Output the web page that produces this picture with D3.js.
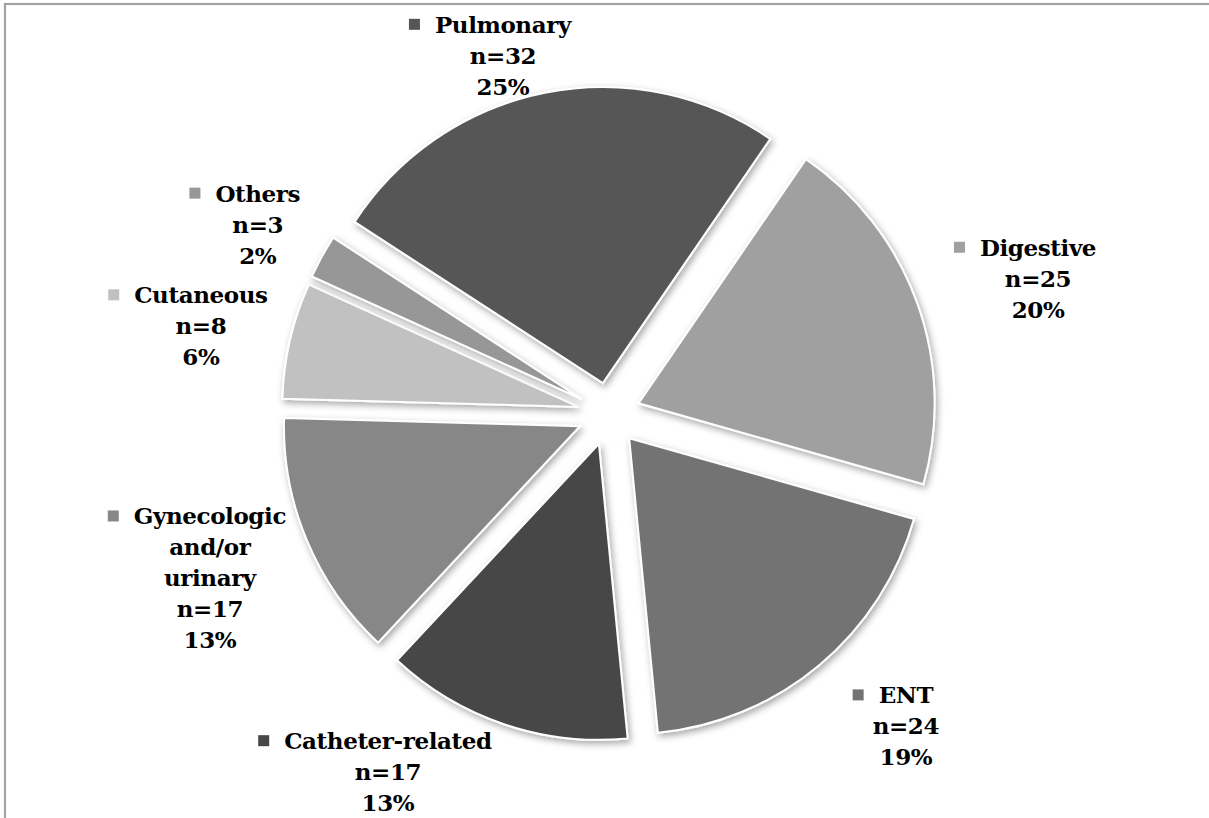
<!DOCTYPE html>
<html>
<head>
<meta charset="utf-8">
<script src="https://cdnjs.cloudflare.com/ajax/libs/d3/7.8.5/d3.min.js"></script>
<style>
    body { margin: 0; background: #fff; }
    #pie-area { width: 1209px; height: 818px; }
    .pie-label { font-family: "DejaVu Serif", serif; font-weight: bold; font-size: 23px; letter-spacing: -0.4px; fill: #000; }
</style>
</head>
<body>
<div id="pie-area"></div>
<script>

// data
let categories = ["Pulmonary", "Digestive", "ENT", "Catheter-related", "Gynecologic and/or urinary", "Cutaneous", "Others"];
let counts = [32, 25, 24, 17, 17, 8, 3];
let percentLabels = ["25%", "20%", "19%", "13%", "13%", "6%", "2%"];

// greys used per slice (same order as categories)
let sliceColors = ["#565656", "#a0a0a0", "#737373", "#474747", "#878787", "#c1c1c1", "#979797"];

// label nudges from the outer edge of each exploded slice
let labelNudge = [[-42, -29], [121, -16], [87, 69], [-116, 56], [-97, 46], [-89, -6], [-64, -24]];

// long names broken on several lines like the original
let wrapLines = {"Gynecologic and/or urinary": ["Gynecologic", "and/or", "urinary"]};


/* * * * * * * * * * * * * *
*      class PieVis        *
* * * * * * * * * * * * * */

class PieVis {

    constructor(parentElement){
        this.parentElement = parentElement;
        this.initVis()
    }

    initVis(){
        let vis = this;

        vis.width = 1209;
        vis.height = 818;
        vis.center = {x: 609, y: 414};
        vis.radius = 296;
        vis.explode = 31.5;

        vis.svg = d3.select("#" + vis.parentElement).append("svg")
            .attr("width", vis.width)
            .attr("height", vis.height);

        // drop shadow for the slices
        let filter = vis.svg.append("defs").append("filter")
            .attr("id", "slice-shadow")
            .attr("x", "-20%").attr("y", "-20%")
            .attr("width", "140%").attr("height", "140%");
        filter.append("feDropShadow")
            .attr("dx", 2).attr("dy", 3)
            .attr("stdDeviation", 3.5)
            .attr("flood-color", "#000")
            .attr("flood-opacity", 0.35);

        // frame (only top and left edges are visible in the picture)
        vis.svg.append("rect")
            .attr("x", 5).attr("y", 4)
            .attr("width", vis.width + 20).attr("height", vis.height + 20)
            .attr("fill", "none")
            .attr("stroke", "#a2a2a2")
            .attr("stroke-width", 2.2);

        vis.pieGroup = vis.svg.append("g")
            .attr("transform", `translate(${vis.center.x}, ${vis.center.y})`);

        vis.labelGroup = vis.svg.append("g");

        vis.pie = d3.pie()
            .sort(null)
            .value(d => d.count)
            .startAngle(-57 * Math.PI / 180)
            .endAngle(303 * Math.PI / 180);

        vis.arc = d3.arc()
            .innerRadius(0)
            .outerRadius(vis.radius);

        this.wrangleData();
    }

    wrangleData(){
        let vis = this;

        vis.displayData = categories.map((c, i) => ({
            name: c,
            count: counts[i],
            pct: percentLabels[i],
            color: sliceColors[i],
            nudge: labelNudge[i]
        }));

        vis.updateVis()
    }

    updateVis(){
        let vis = this;

        let arcs = vis.pie(vis.displayData);

        // slices, each pushed out along its bisector
        vis.pieGroup.selectAll(".slice")
            .data(arcs)
            .enter()
            .append("path")
            .attr("class", "slice")
            .attr("d", vis.arc)
            .attr("fill", d => d.data.color)
            .attr("stroke", "#fff")
            .attr("stroke-width", 2)
            .attr("stroke-linejoin", "miter")
            .attr("filter", "url(#slice-shadow)")
            .attr("transform", d => {
                let mid = (d.startAngle + d.endAngle) / 2;
                return `translate(${vis.explode * Math.sin(mid)}, ${-vis.explode * Math.cos(mid)})`;
            });

        // labels
        let lineH = 31;
        arcs.forEach(d => {
            let mid = (d.startAngle + d.endAngle) / 2;
            let rOut = vis.radius + vis.explode;
            let cx = vis.center.x + rOut * Math.sin(mid) + d.data.nudge[0];
            let cy = vis.center.y - rOut * Math.cos(mid) + d.data.nudge[1];

            let lines = (wrapLines[d.data.name] || [d.data.name]).concat(["n=" + d.data.count, d.data.pct]);
            let firstBase = cy - (lines.length - 1) / 2 * lineH;

            let g = vis.labelGroup.append("g");

            let text = g.append("text")
                .attr("class", "pie-label")
                .attr("text-anchor", "middle");

            lines.forEach((ln, j) => {
                text.append("tspan")
                    .attr("x", cx)
                    .attr("y", firstBase + j * lineH)
                    .text(ln);
            });

            // legend square left of the first line
            let firstW = text.select("tspan").node().getComputedTextLength();
            g.append("rect")
                .attr("x", cx - firstW / 2 - 26)
                .attr("y", firstBase - 14)
                .attr("width", 11)
                .attr("height", 11)
                .attr("fill", d.data.color);
        });
    }
}

let pieVis = new PieVis("pie-area");

</script>
</body>
</html>
